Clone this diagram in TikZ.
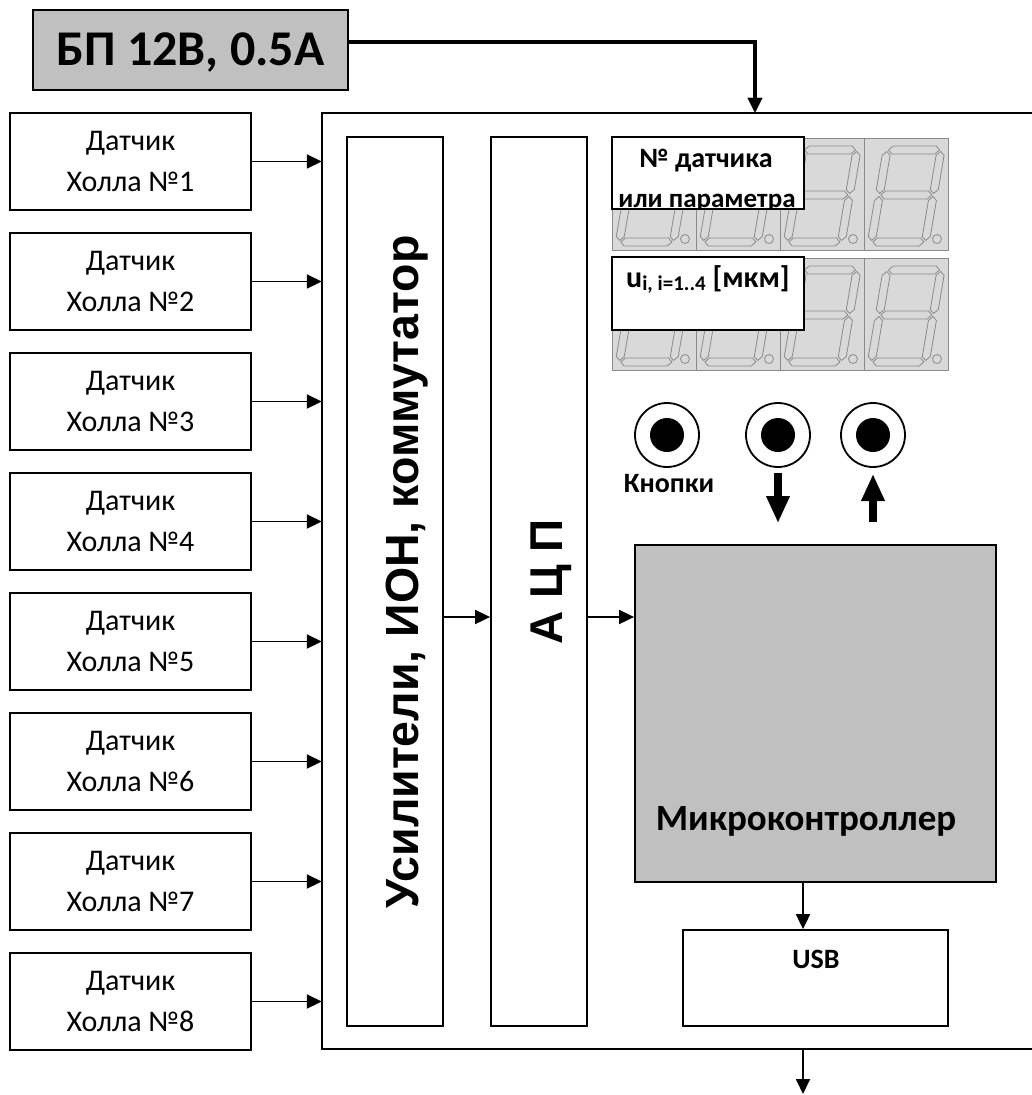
\documentclass[tikz,border=0pt]{standalone}
\usepackage{fontspec}
\setmainfont{Carlito}
\newfontfamily\arialfam{Liberation Sans}
\usetikzlibrary{arrows.meta}
\definecolor{boxgray}{HTML}{C0C0C0}
\definecolor{dispbg}{HTML}{D9D9D9}
\definecolor{segline}{HTML}{8A8A8A}
\newcommand{\fsz}[1]{\fontsize{#1}{#1}\selectfont}
\newcommand{\hseg}[1]{\draw (7.5,#1) -- (11.5,#1-4) -- (54.5,#1-4) -- (58.5,#1) -- (54.5,#1+4) -- (11.5,#1+4) -- cycle;}
\newcommand{\vseg}[3]{\draw (#1,#2) -- (#1+4,#2+4) -- (#1+4,#3-4) -- (#1,#3) -- (#1-4,#3-4) -- (#1-4,#2+4) -- cycle;}
\tikzset{
  box/.style={draw, line width=1.8pt, inner sep=0pt},
  sensorbox/.style={box, minimum width=241pt, minimum height=97pt, align=center, font=\fontsize{30}{41}\selectfont},
  arr/.style={line width=1.8pt, -{Triangle[length=15pt,width=14pt]}},
  pwr/.style={line width=4.5pt, -{Triangle[length=15pt,width=15pt,line width=0.1pt]}},
  bigarr/.style={line width=8pt, -{Triangle[length=26pt,width=24pt,line width=0.1pt]}},
  btnouter/.style={circle, draw, line width=1.8pt, minimum size=64pt, inner sep=0pt},
  btninner/.style={circle, fill=black, minimum size=34pt, inner sep=0pt},
  lblbox/.style={fill=white, inner sep=0pt},
  lbltext/.style={font=\bfseries\fsz{28}, inner sep=0pt},
}
\begin{document}
\begin{tikzpicture}[x=1pt,y=-1pt]
\useasboundingbox (0,0) rectangle (1032,1095);

% power supply
\node[box, fill=boxgray, minimum width=315pt, minimum height=80pt] (psu) at (190.5,50) {};
\node[font=\bfseries\fsz{50}, anchor=base, inner sep=0pt] (psut) at (190.5,65) {БП 12В, 0.5А};

% main enclosure
\node[minimum width=710pt, minimum height=936pt, inner sep=0pt] (main) at (677,581) {};
\draw[line width=1.8pt] (main.north east) -- (main.north west) -- (main.south west) -- (main.south east);
\coordinate (pin) at (755,0);
\draw[pwr] ([yshift=8pt]psu.east) -| (main.north -| pin);

% sensors
\foreach \i in {1,...,8} {
  \node[sensorbox] (s\i) at (130.5,{161.5+120*(\i-1)}) {Датчик\\Холла №\i};
  \draw[arr] (s\i.east) -- (s\i.east -| main.west);
}

% amplifier and ADC
\node[box, minimum width=96pt, minimum height=889pt] (amp) at (395,581.5) {};
\node[rotate=90, anchor=base, inner sep=0pt, font=\arialfam\bfseries\fsz{46.5}] (ampt) at (418,572) {Усилители, ИОН, коммутатор};
\node[box, minimum width=96pt, minimum height=889pt] (adc) at (539,581.5) {};
\node[rotate=90, anchor=base, inner sep=0pt, font=\arialfam\bfseries\fsz{46}] (adct) at (562,582) {А Ц П};

% microcontroller and USB
\node[box, fill=boxgray, minimum width=361pt, minimum height=337pt] (mcu) at (815.5,713.5) {};
\node[font=\bfseries\fsz{37}, anchor=base, inner sep=0pt] (mcut) at (806,830) {Микроконтроллер};
\node[box, minimum width=265pt, minimum height=96pt] (usb) at (815.5,978) {};
\node[font=\bfseries\fsz{28}, anchor=base, inner sep=0pt] (usbt) at (816,968) {USB};

\draw[arr] ([yshift=-35.5pt]amp.east) -- ([yshift=-35.5pt]amp.east -| adc.west);
\draw[arr] ([yshift=-35.5pt]adc.east) -- ([yshift=-35.5pt]adc.east -| mcu.west);
\coordinate (outx) at (803,1094);
\draw[arr] (mcu.south -| outx) -- (usb.north -| outx);
\draw[arr] (main.south -| outx) -- (outx);

% seven-segment displays
\foreach \row in {138,258} {
  \foreach \k in {0,...,3} {
    \draw[segline, fill=dispbg, line width=1pt] ({612+84*\k},\row) rectangle +(84,112);
    \begin{scope}[shift={({612+84*\k+19.04},\row)}, xslant=0.17, segline, line width=0.8pt]
      \hseg{12} \hseg{57} \hseg{104}
      \vseg{6}{13.5}{55.5} \vseg{6}{58.5}{102.5}
      \vseg{60}{13.5}{55.5} \vseg{60}{58.5}{102.5}
    \end{scope}
    \draw[segline, line width=0.8pt] ({612+84*\k+73},{\row+101}) circle[radius=4.5pt];
  }
}

% display labels
\node[lblbox, minimum width=192pt, minimum height=72pt] (lab1) at (708,173) {};
\begin{scope}
  \clip (lab1.south west) rectangle (lab1.north east);
  \node[lbltext, anchor=base] (lab1a) at (706,167) {№ датчика};
  \node[lbltext, anchor=base, font=\bfseries\fsz{27}] (lab1b) at (707,207) {или параметра};
\end{scope}
\draw[line width=1.8pt] (lab1.south west) rectangle (lab1.north east);

\node[lblbox, draw, line width=1.8pt, minimum width=192pt, minimum height=73pt] (lab2) at (708,293.5) {};
\node[lbltext, anchor=base west] (lab2t) at (626,287) {\fsz{30}u\raisebox{-3pt}{\fsz{21}i, i=1..4} [мкм]};

% buttons
\node[btnouter] (b1) at (667,435) {};
\node[btninner] (b1i) at (b1) {};
\node[btnouter] (b2) at (778,435) {};
\node[btninner] (b2i) at (b2) {};
\node[btnouter] (b3) at (873,435) {};
\node[btninner] (b3i) at (b3) {};
\node[lbltext, anchor=base] (knt) at (669,492) {Кнопки};
\coordinate (dnA) at (778,473);
\coordinate (dnB) at (778,522);
\coordinate (upA) at (873,522);
\coordinate (upB) at (873,475);
\draw[bigarr] (dnA) -- (dnB);
\draw[bigarr] (upA) -- (upB);
\end{tikzpicture}
\end{document}
